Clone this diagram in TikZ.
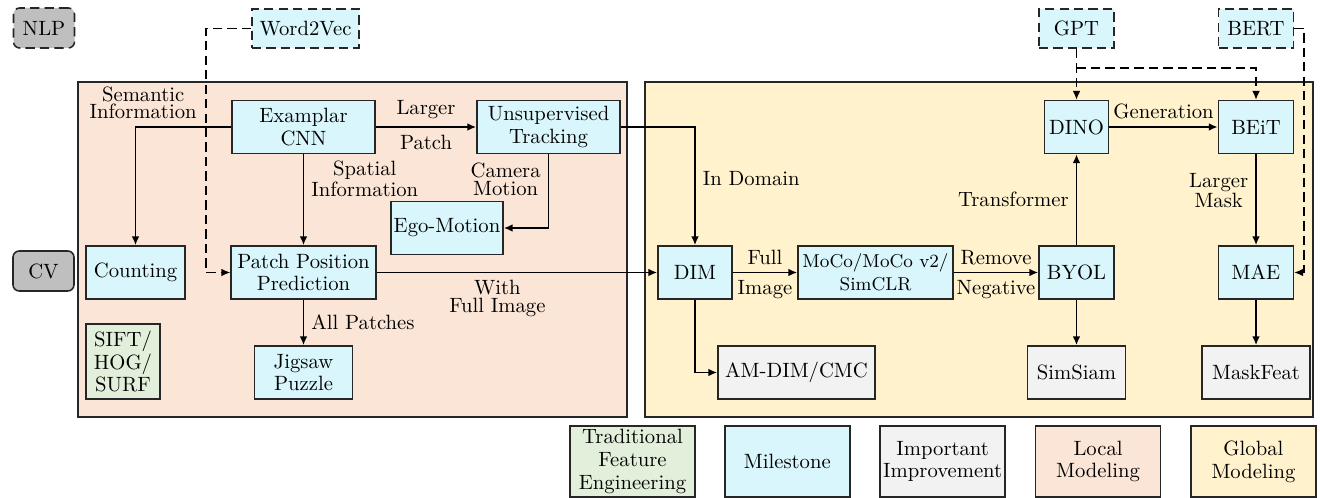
\documentclass[tikz,border=0pt]{standalone}
\usepackage{xcolor}
\definecolor{milecyan}{HTML}{D8F6FC}
\definecolor{imprgray}{HTML}{F2F2F2}
\definecolor{tradgreen}{HTML}{E2EFDA}
\definecolor{localpeach}{HTML}{FBE5D6}
\definecolor{globalgold}{HTML}{FFF2CC}
\definecolor{fieldgray}{HTML}{BFBFBF}
\definecolor{edge}{HTML}{262626}
\usepackage{tikz}
\usetikzlibrary{arrows.meta,positioning}

\begin{document}
\begin{tikzpicture}[
  x=0.017cm,y=-0.017cm,
  box/.style 2 args={draw=edge,line width=0.75pt,align=center,inner sep=1pt,
    minimum width=#1*0.017cm,minimum height=#2*0.017cm,font=\fontsize{10}{11}\selectfont},
  mile/.style={fill=milecyan},
  impr/.style={fill=imprgray},
  trad/.style={fill=tradgreen},
  field/.style={fill=fieldgray,rounded corners=3pt},
  dashbox/.style={dash pattern=on 4.5pt off 2.5pt},
  ar/.style={-{Latex[length=1.5mm,width=1.3mm]},line width=0.9pt},
  dar/.style={-{Latex[length=1.5mm,width=1.3mm]},line width=0.6pt,dash pattern=on 4.5pt off 2.5pt},
  lbl/.style={align=center,font=\fontsize{10}{8.5}\selectfont}
]
\useasboundingbox (0,0) rectangle (1320,498);

% regions
\node[box={549}{335},fill=localpeach] (localbg) at (352.5,249.5) {};
\node[box={668}{335},fill=globalgold] (globalbg) at (979,249.5) {};

% fields and NLP models
\node[box={61}{40},field,dashbox] (nlp) at (44,28) {NLP};
\node[box={61}{40},field] (cv) at (43.5,271) {CV};
\node[box={107}{39},mile,dashbox] (w2v) at (305.5,28.5) {Word2Vec};
\node[box={75}{39},mile,dashbox] (gpt) at (1076.5,28.5) {GPT};
\node[box={75}{39},mile,dashbox] (bert) at (1256,28.5) {BERT};

% local modeling
\node[box={143}{53},mile] (exam) at (303.5,127) {Examplar\\CNN};
\node[box={143}{53},mile] (track) at (548.5,127) {Unsupervised\\Tracking};
\node[box={112}{53},mile] (ego) at (447,228) {Ego-Motion};
\node[box={99}{53},mile] (count) at (135.5,272.5) {Counting};
\node[box={145}{53},mile] (ppp) at (303.5,272.5) {Patch Position\\Prediction};
\node[box={98}{53},mile] (jig) at (303.5,372.5) {Jigsaw\\Puzzle};
\node[box={74}{75},trad] (sift) at (123,361.5) {SIFT/\\HOG/\\SURF};

% global modeling
\node[box={74}{53},mile] (dim) at (695,272.5) {DIM};
\node[box={155}{53},mile,font=\small] (moco) at (875.5,272.5) {MoCo/MoCo v2/\\SimCLR};
\node[box={75}{53},mile] (byol) at (1076.5,272.5) {BYOL};
\node[box={157}{53},impr] (amdim) at (796.5,372.5) {AM-DIM/CMC};
\node[box={98}{53},impr] (simsiam) at (1076.5,372.5) {SimSiam};
\node[box={64}{53},mile] (dino) at (1076.5,127) {DINO};
\node[box={75}{53},mile] (beit) at (1256,127) {BEiT};
\node[box={75}{53},mile] (mae) at (1256,272.5) {MAE};
\node[box={108}{53},impr] (maskfeat) at (1256,372.5) {MaskFeat};

% legend
\node[box={125}{71},trad] (legtrad) at (632.5,461.5) {Traditional\\Feature\\Engineering};
\node[box={125}{71},mile,right=0.48cm of legtrad] (legmile) {Milestone};
\node[box={125}{71},impr,right=0.49cm of legmile] (legimpr) {Important\\Improvement};
\node[box={125}{71},fill=localpeach,right=0.49cm of legimpr] (leglocal) {Local\\Modeling};
\node[box={125}{71},fill=globalgold,right=0.49cm of leglocal] (legglobal) {Global\\Modeling};

% connectors
\draw[ar] (exam.west) -| node[lbl,above,pos=0.46]{Semantic\\Information} (count.north);
\draw[ar] (exam.east) -- node[lbl,above]{Larger} node[lbl,below]{Patch} (track.west);
\draw[ar] (exam.south) -- node[lbl,right,pos=0.27]{Spatial\\Information} (ppp.north);
\draw[ar] (track.south) |- node[lbl,left,pos=0.17]{Camera\\Motion} (ego.east);
\draw[ar] (track.east) -| node[lbl,right,pos=0.72]{In Domain} (dim.north);
\draw[ar] (ppp.south) -- node[lbl,right]{All Patches} (jig.north);
\draw[ar] (ppp.east) -- node[lbl,below,pos=0.43]{With\\Full Image} (dim.west);
\draw[ar] (dim.east) -- node[lbl,above]{Full} node[lbl,below]{Image} (moco.west);
\draw[ar] (dim.south) |- (amdim.west);
\draw[ar] (moco.east) -- node[lbl,above]{Remove} node[lbl,below]{Negative} (byol.west);
\draw[ar] (byol.north) -- node[lbl,left]{Transformer} (dino.south);
\draw[ar] (byol.south) -- (simsiam.north);
\draw[ar] (dino.east) -- node[lbl,above]{Generation} (beit.west);
\draw[ar] (beit.south) -- node[lbl,left,pos=0.4]{Larger\\Mask} (mae.north);
\draw[ar] (mae.south) -- (maskfeat.north);

% NLP influence
\coordinate (w2vturn) at (206,272.5);
\coordinate (gptsplit) at (1076.5,68);
\coordinate (bertturn) at (1304,272.5);
\draw[dar] (w2v.west) -| (w2vturn) -- (ppp.west);
\draw[dar] (gpt.south) -- (dino.north);
\draw[dar] (gptsplit) -| (beit.north);
\draw[dar] (bert.east) -| (bertturn) -- (mae.east);
\end{tikzpicture}
\end{document}
